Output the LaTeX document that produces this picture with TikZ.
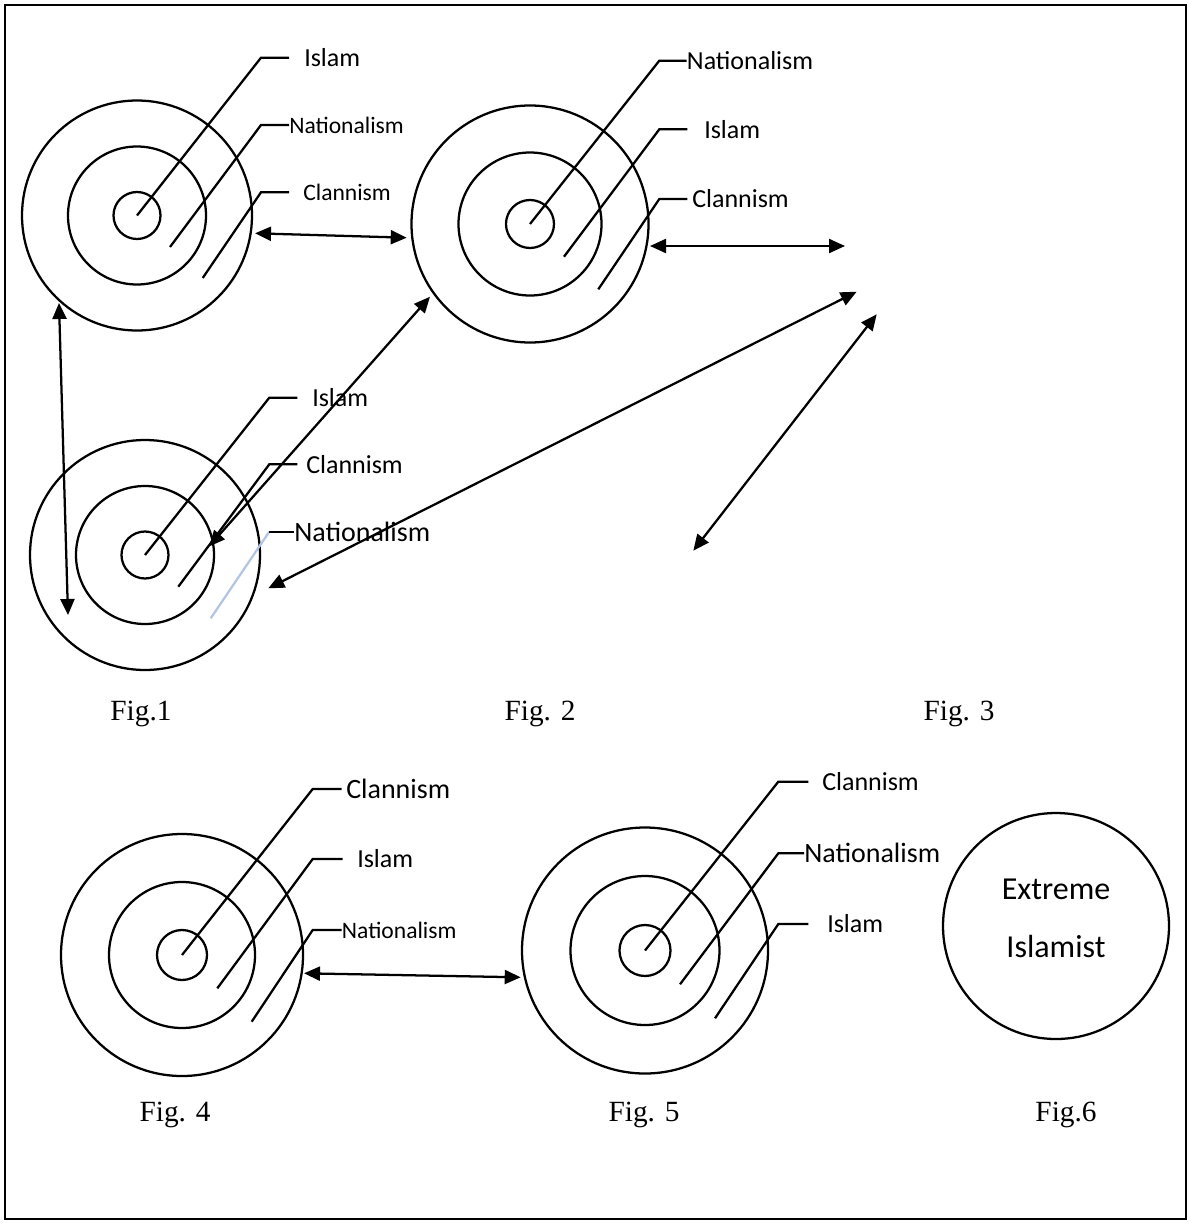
\documentclass[tikz,border=0pt]{standalone}
\usepackage{fontspec}
\setmainfont{Liberation Serif}
\newfontfamily\calib{Carlito}
\usepackage{tikz}
\usetikzlibrary{arrows.meta}
\definecolor{paleblue}{RGB}{180,196,228}
\tikzset{
  ring/.style={circle, draw, line width=1.7pt, inner sep=0pt, minimum size=#1},
  lead/.style={line width=1.7pt},
  dbl/.style={line width=1.7pt, {Triangle[length=12pt,width=10.5pt]}-{Triangle[length=12pt,width=10.5pt]}},
  lbl/.style={anchor=west, inner sep=0pt, font=\calib\fontsize{19.5}{22}\selectfont},
  lblS/.style={lbl, font=\calib\fontsize{17.7}{20}\selectfont},
  lblL/.style={lbl, font=\calib\fontsize{21}{24}\selectfont},
  figlbl/.style={anchor=base, inner sep=0pt, font=\fontsize{22}{26}\selectfont},
  extxt/.style={align=center, inner sep=0pt, font=\calib\fontsize{24}{43.7}\selectfont}
}

\begin{document}
\begin{tikzpicture}[x=0.75pt, y=-0.75pt]
			%%%%% START %%%%%
			\useasboundingbox (0,0) rectangle (1189,1224);
			\draw[line width=1.5pt] (5,5) rectangle (1186,1219);
			
			% Fig.1
			\node[ring=172.5pt] (f1o) at (137,215.5) {};
			\node[ring=103.5pt] (f1m) at (137,215.5) {};
			\node[ring=35.25pt] (f1c) at (137,215.5) {};
			\node[lbl] (f1isl) at (304,57.7) {Islam};
			\node[lblS] (f1nat) at (289,125) {Nationalism};
			\node[lblS] (f1cla) at (303,192.3) {Clannism};
			\draw[lead, shorten >=11.25pt] (f1c.center) -- (261,57.7) -- (f1isl.west);
			\draw[lead] ([shift={(33,31.5)}]f1c.center) -- (261,125) -- (f1nat.west);
			\draw[lead, shorten >=10.5pt] ([shift={(65.7,62.5)}]f1c.center) -- (261,192.3) -- (f1cla.west);
			
			% Fig. 2
			\node[ring=177.75pt] (f2o) at (530,224) {};
			\node[ring=107.25pt] (f2m) at (530,224) {};
			\node[ring=36pt] (f2c) at (530,224) {};
			\node[lbl] (f2nat) at (686.7,60.7) {Nationalism};
			\node[lbl] (f2isl) at (704,129.3) {Islam};
			\node[lbl] (f2cla) at (692,199) {Clannism};
			\draw[lead] (f2c.center) -- (659.3,60.7) -- (f2nat.west);
			\draw[lead, shorten >=12.5pt] ([shift={(34,32.7)}]f2c.center) -- (659.3,129.3) -- (f2isl.west);
			\draw[lead, shorten >=3.5pt] ([shift={(68.3,65.3)}]f2c.center) -- (659.3,199) -- (f2cla.west);
			
			% Fig.1 (lower)
			\node[ring=172.5pt] (fbo) at (145,555) {};
			\node[ring=103.5pt] (fbm) at (145,555) {};
			\node[ring=35.25pt] (fbc) at (145,555) {};
			\node[lbl] (fbisl) at (312,397.7) {Islam};
			\node[lbl] (fbcla) at (306,464.3) {Clannism};
			\node[lblL] (fbnat) at (294,531.7) {Nationalism};
			\coordinate (fbbend) at (269.3,531.7);
			\draw[lead, shorten >=11pt] (fbc.center) -- (269.3,397.7) -- (fbisl.west);
			\draw[lead, shorten >=6.5pt] ([shift={(33.3,31.7)}]fbc.center) -- (269.3,464.3) -- (fbcla.west);
			\draw[lead, color=paleblue] ([shift={(65.7,63.3)}]fbc.center) -- (fbbend);
			\draw[lead] (fbbend) -- (fbnat.west);
			
			% arrows between the upper figures
			\coordinate (a12s) at (255,233.3);
			\coordinate (a12e) at (406.7,237.7);
			\coordinate (a23s) at (650,246);
			\coordinate (a23e) at (845,246);
			\coordinate (a2bs) at (430,296.7);
			\coordinate (a2be) at (209,546.5);
			\coordinate (ab3s) at (268.3,588.3);
			\coordinate (ab3e) at (856.7,291.7);
			\coordinate (a3s) at (876.7,314.3);
			\coordinate (a3e) at (693.3,550.7);
			\coordinate (a1vs) at (59,303);
			\coordinate (a1ve) at (68,615);
			\draw[dbl] (a12s) -- (a12e);
			\draw[dbl] (a23s) -- (a23e);
			\draw[dbl] (a2bs) -- (a2be);
			\draw[dbl] (ab3s) -- (ab3e);
			\draw[dbl] (a3s) -- (a3e);
			\draw[dbl] (a1vs) -- (a1ve);
			
			\node[figlbl] (fig1) at (141,720) {Fig.1};
			\node[figlbl] (fig2) at (540,720) {Fig. 2};
			\node[figlbl] (fig3) at (959,720) {Fig. 3};
			
			% Fig. 4
			\node[ring=181.5pt] (f4o) at (182,955) {};
			\node[ring=109.5pt] (f4m) at (182,955) {};
			\node[ring=37.5pt] (f4c) at (182,955) {};
			\node[lblL] (f4cla) at (346,789) {Clannism};
			\node[lbl] (f4isl) at (357,859) {Islam};
			\node[lblS] (f4nat) at (341.7,930) {Nationalism};
			\draw[lead, shorten >=3.2pt] (f4c.center) -- (312.7,789) -- (f4cla.west);
			\draw[lead, shorten >=10.7pt] ([shift={(35.3,33.3)}]f4c.center) -- (312.7,859) -- (f4isl.west);
			\draw[lead] ([shift={(69.7,66.7)}]f4c.center) -- (312.7,930) -- (f4nat.west);
			
			% Fig. 5
			\node[ring=184.5pt] (f5o) at (645,950.5) {};
			\node[ring=111.75pt] (f5m) at (645,950.5) {};
			\node[ring=38.25pt] (f5c) at (645,950.5) {};
			\node[lbl] (f5cla) at (822,781.7) {Clannism};
			\node[lblL] (f5nat) at (804,853.3) {Nationalism};
			\node[lbl] (f5isl) at (827,924) {Islam};
			\draw[lead, shorten >=10.3pt] (f5c.center) -- (778.3,781.7) -- (f5cla.west);
			\draw[lead] ([shift={(35,33.8)}]f5c.center) -- (778.3,853.3) -- (f5nat.west);
			\draw[lead, shorten >=14pt] ([shift={(70,67.8)}]f5c.center) -- (778.3,924) -- (f5isl.west);
			
			\coordinate (a45s) at (304,973.3);
			\coordinate (a45e) at (520.7,977.3);
			\draw[dbl] (a45s) -- (a45e);
			
			% Fig.6
			\node[ring=169.5pt] (f6) at (1056,926) {};
			\node[extxt] (f6t) at (1056,918) {Extreme\\Islamist};
			
			\node[figlbl] (fig4) at (175,1121.5) {Fig. 4};
			\node[figlbl] (fig5) at (644,1121.5) {Fig. 5};
			\node[figlbl] (fig6) at (1066,1121.5) {Fig.6};
			%%%%% END %%%%%
\end{tikzpicture}
\end{document}
